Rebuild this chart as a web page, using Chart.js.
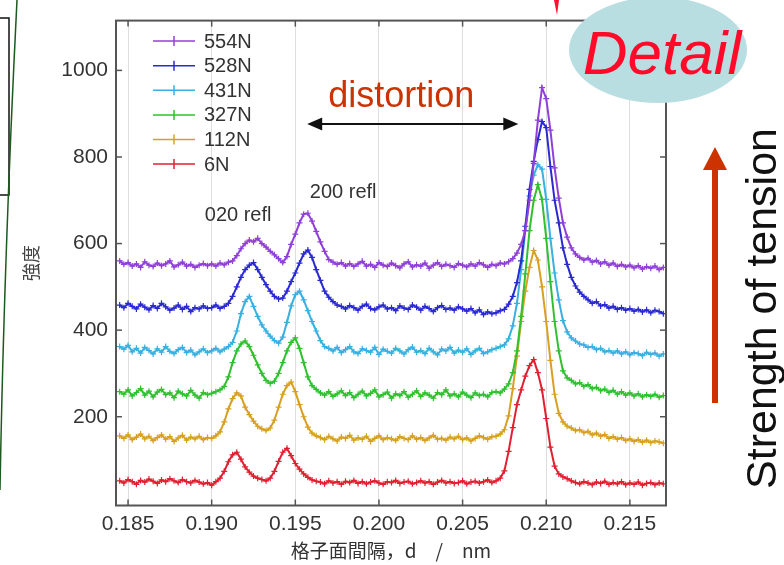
<!DOCTYPE html>
<html>
<head>
<meta charset="utf-8">
<script src="https://cdn.jsdelivr.net/npm/chart.js@4.4.0/dist/chart.umd.min.js"></script>
<style>
html,body{margin:0;padding:0;background:#fff;overflow:hidden}
#wrap{position:relative;width:784px;height:565px}
</style>
</head>
<body>
<div id="wrap"><canvas id="c" width="784" height="565"></canvas></div>
<script>
// lattice spacing d (nm)
const dSpacing = [
0.1845,0.18475,0.185,0.18525,0.1855,0.18575,0.186,0.18625,0.1865,0.18675,
0.187,0.18725,0.1875,0.18775,0.188,0.18825,0.1885,0.18875,0.189,0.18925,
0.1895,0.18975,0.19,0.19025,0.1905,0.19075,0.191,0.19125,0.1915,0.19175,
0.192,0.19225,0.1925,0.19275,0.193,0.19325,0.1935,0.19375,0.194,0.19425,
0.1945,0.19475,0.195,0.19525,0.1955,0.19575,0.196,0.19625,0.1965,0.19675,
0.197,0.19725,0.1975,0.19775,0.198,0.19825,0.1985,0.19875,0.199,0.19925,
0.1995,0.19975,0.2,0.20025,0.2005,0.20075,0.201,0.20125,0.2015,0.20175,
0.202,0.20225,0.2025,0.20275,0.203,0.20325,0.2035,0.20375,0.204,0.20425,
0.2045,0.20475,0.205,0.20525,0.2055,0.20575,0.206,0.20625,0.2065,0.20675,
0.207,0.20725,0.2075,0.20775,0.208,0.20825,0.2085,0.20875,0.209,0.20925,
0.2095,0.20975,0.21,0.21025,0.2105,0.21075,0.211,0.21125,0.2115,0.21175,
0.212,0.21225,0.2125,0.21275,0.213,0.21325,0.2135,0.21375,0.214,0.21425,
0.2145,0.21475,0.215,0.21525,0.2155,0.21575,0.216,0.21625,0.2165,0.21675,
0.217];

const seriesLabels = ['554N','528N','431N','327N','112N','6N'];

const s554 = [560,552,556,548,553,545,558,550,547,555,549,553,560,546,551,557,548,552,545,550,554,549,
553,548,555,551,557,560,572,588,600,608,604,612,600,592,582,574,565,556,570,598,622,648,668,670,652,628,
604,582,563,557,552,556,548,554,547,553,559,548,552,545,556,550,547,555,549,544,553,558,546,551,548,555,543,550,556,547,552,549,545,554,550,546,553,548,556,551,545,552,
549,555,553,558,565,578,598,630,700,785,885,960,935,862,775,705,648,615,
590,576,568,562,566,557,561,553,558,550,555,547,552,546,550,544,549,541,547,543,548,540,545];

const s528 = [458,452,462,455,449,460,453,447,457,450,462,454,446,451,458,448,455,443,452,449,456,450,
452,458,450,455,462,478,500,522,540,550,556,540,522,505,490,478,472,474,490,512,532,555,576,585,568,540,
515,490,476,466,458,455,449,457,452,446,455,460,450,447,454,458,449,452,445,456,451,448,458,453,446,455,450,443,452,457,448,451,446,454,449,444,450,440,447,436,442,438,
440,445,448,460,478,510,560,640,725,790,840,882,868,778,700,648,590,552,
522,502,488,478,470,462,466,456,459,451,455,448,452,446,450,444,448,442,447,440,446,443,438];

const s431 = [362,356,365,350,358,347,360,353,345,357,349,362,351,346,355,360,348,354,343,350,357,348,
352,358,350,356,362,372,398,438,466,478,455,432,412,398,386,376,370,384,418,456,482,490,470,445,420,398,
376,362,358,352,360,348,355,362,350,346,357,353,349,360,344,356,351,347,358,352,345,355,361,349,353,346,358,350,343,356,352,360,347,354,349,357,344,352,358,346,350,355,
358,362,366,380,410,462,540,630,710,758,782,772,702,612,532,470,422,396,
382,375,368,366,360,362,355,358,350,353,347,352,345,350,343,348,346,341,349,344,347,340,345];

const s327 = [258,252,262,248,256,265,250,259,246,257,263,251,255,244,259,253,248,261,250,243,256,251,
254,258,262,270,292,325,352,368,375,362,342,320,300,284,277,282,300,325,352,372,382,358,325,292,272,263,
255,250,258,247,253,260,249,256,244,252,259,248,254,262,246,251,257,243,253,249,258,245,252,260,247,255,250,243,256,251,262,248,253,246,257,250,244,255,249,252,246,256,
258,255,264,276,302,352,432,530,630,700,736,702,612,512,420,352,306,290,
284,276,279,270,274,265,268,260,264,256,261,252,258,250,255,248,253,246,251,247,252,245,249];

const s112 = [156,150,158,147,153,160,149,155,145,152,158,148,154,143,151,157,146,153,149,155,147,152,
150,156,165,188,218,242,255,248,222,205,190,178,172,168,174,192,222,252,272,280,258,228,200,176,162,156,
152,147,155,149,144,153,150,157,146,151,148,155,143,150,156,147,152,149,145,154,150,147,156,148,152,145,151,157,148,150,146,153,149,155,147,151,144,150,156,152,148,154,
155,160,170,202,265,340,420,490,545,584,562,500,420,330,252,208,188,178,
174,168,170,163,166,158,162,155,159,150,154,148,152,145,149,143,147,141,146,140,144,142,139];

const s6 = [52,47,55,50,44,53,49,56,51,46,54,50,57,52,48,55,50,47,53,49,45,48,
42,50,58,74,96,112,118,102,84,72,63,58,55,52,58,74,97,118,127,110,92,79,68,60,54,51,
49,45,52,47,50,44,51,48,53,46,50,45,49,52,47,44,50,48,53,46,49,51,45,48,52,47,50,44,49,53,47,50,46,48,52,45,49,51,47,50,54,48,
52,58,75,120,175,228,262,294,318,332,302,262,196,130,86,68,61,57,
52,48,45,50,47,43,49,46,51,44,48,45,50,43,47,44,49,42,46,48,43,47,45];

const xTickStep = 0.005;
const yTickStep = 200;

// styles
const seriesColors = ['#9040d8','#2a2ad0','#38b0e0','#30c030','#d8a020','#e02030'];
const allSeries = [s554,s528,s431,s327,s112,s6];

const datasets = allSeries.map((s, k) => ({
  label: seriesLabels[k],
  data: dSpacing.map((d, i) => ({x: d, y: s[i]})),
  borderColor: seriesColors[k],
  backgroundColor: seriesColors[k],
  pointBorderColor: seriesColors[k],
  borderWidth: 2,
  pointStyle: 'cross',
  pointRadius: 3,
  pointBorderWidth: 1.2,
  tension: 0,
  fill: false
}));

function arrowHead(ctx, x, y, dx, dy, len, half) {
  const n = Math.hypot(dx, dy); const ux = dx / n, uy = dy / n;
  ctx.beginPath();
  ctx.moveTo(x, y);
  ctx.lineTo(x - ux * len - uy * half, y - uy * len + ux * half);
  ctx.lineTo(x - ux * len + uy * half, y - uy * len - ux * half);
  ctx.closePath(); ctx.fill();
}

const decor = {
  id: 'decor',
  afterDraw(chart) {
    const {ctx, chartArea: a, scales: {x, y}} = chart;
    ctx.save();
    const seg = (x1, y1, x2, y2) => { ctx.beginPath(); ctx.moveTo(x1, y1); ctx.lineTo(x2, y2); ctx.stroke(); };

    // inward tick marks
    ctx.strokeStyle = '#555'; ctx.lineWidth = 1.5;
    x.ticks.forEach(t => { const px = x.getPixelForValue(t.value); seg(px, a.bottom, px, a.bottom - 6); seg(px, a.top, px, a.top + 6); });
    y.ticks.forEach(t => { if (t.value <= 0) return; const py = y.getPixelForValue(t.value); seg(a.left, py, a.left + 6, py); seg(a.right, py, a.right - 6, py); });

    // frame
    ctx.strokeStyle = '#555'; ctx.lineWidth = 2;
    ctx.strokeRect(a.left, a.top, a.right - a.left, a.bottom - a.top);

    // legend
    ctx.font = '20px "Liberation Sans", Arial, sans-serif';
    ctx.textBaseline = 'middle'; ctx.textAlign = 'left';
    chart.data.datasets.forEach((ds, i) => {
      const yy = a.top + 20.5 + i * 24.6;
      ctx.strokeStyle = ds.borderColor; ctx.lineWidth = 1.5;
      seg(a.left + 37, yy, a.left + 79, yy);
      seg(a.left + 58, yy - 5, a.left + 58, yy + 5);
      ctx.fillStyle = '#333';
      ctx.fillText(ds.label, a.left + 88, yy + 1);
    });

    // peak labels
    ctx.fillStyle = '#333'; ctx.textAlign = 'center';
    ctx.font = '20px "Liberation Sans", Arial, sans-serif';
    ctx.fillText('020 refl', x.getPixelForValue(0.19158), y.getPixelForValue(665));
    ctx.fillText('200 refl', x.getPixelForValue(0.19786), y.getPixelForValue(717));

    // distortion
    ctx.fillStyle = '#cc3300';
    ctx.font = '36px "Liberation Sans", Arial, sans-serif';
    ctx.fillText('distortion', x.getPixelForValue(0.20133), y.getPixelForValue(939));
    const ax1 = x.getPixelForValue(0.19571), ax2 = x.getPixelForValue(0.20833), ay = y.getPixelForValue(876);
    ctx.strokeStyle = '#111'; ctx.fillStyle = '#111'; ctx.lineWidth = 2;
    seg(ax1 + 10, ay, ax2 - 10, ay);
    arrowHead(ctx, ax1, ay, -1, 0, 15, 6.5);
    arrowHead(ctx, ax2, ay, 1, 0, 15, 6.5);

    // left decorations
    ctx.strokeStyle = '#111'; ctx.lineWidth = 1.5;
    ctx.beginPath(); ctx.moveTo(0, 18); ctx.lineTo(9, 18); ctx.lineTo(9, 195); ctx.lineTo(0, 195); ctx.stroke();
    ctx.strokeStyle = '#1d5a1d'; ctx.lineWidth = 1.5;
    ctx.beginPath(); ctx.moveTo(17, 0); ctx.quadraticCurveTo(4, 260, 0, 490); ctx.stroke();

    // red mark at top
    ctx.fillStyle = '#ff1030';
    ctx.beginPath(); ctx.moveTo(554, 0); ctx.lineTo(559, 0); ctx.lineTo(557, 15); ctx.closePath(); ctx.fill();

    // Detail ellipse
    ctx.fillStyle = '#b8dee2';
    ctx.beginPath(); ctx.ellipse(658, 50, 89, 53, 0, 0, Math.PI * 2); ctx.fill();
    ctx.fillStyle = '#ff0a28';
    ctx.font = 'italic 62px "Liberation Sans", Arial, sans-serif';
    ctx.textBaseline = 'alphabetic'; ctx.textAlign = 'center';
    ctx.fillText('Detail', 662, 74);

    // tension arrow
    ctx.fillStyle = '#cc3300';
    ctx.fillRect(712, 168, 6, 235);
    ctx.beginPath(); ctx.moveTo(703, 170); ctx.lineTo(727, 170); ctx.lineTo(715, 147); ctx.closePath(); ctx.fill();

    // Strength of tension
    ctx.save();
    ctx.translate(776, 308.5); ctx.rotate(-Math.PI / 2);
    ctx.fillStyle = '#111';
    ctx.font = '43px "Liberation Sans", Arial, sans-serif';
    ctx.textAlign = 'center'; ctx.textBaseline = 'alphabetic';
    ctx.fillText('Strength of tension', 0, 0);
    ctx.restore();

    ctx.restore();
  }
};

new Chart(document.getElementById('c'), {
  type: 'line',
  data: { datasets },
  plugins: [decor],
  options: {
    responsive: false,
    animation: false,
    devicePixelRatio: 1,
    layout: { padding: { top: 10, right: 118, left: 0, bottom: 0 } },
    plugins: { legend: { display: false }, tooltip: { enabled: false } },
    scales: {
      x: {
        type: 'linear', min: 0.18428, max: 0.21716,
        ticks: {
          stepSize: xTickStep, includeBounds: false, autoSkip: false, maxRotation: 0,
          font: { family: '"Liberation Sans", Arial, sans-serif', size: 21 }, color: '#333', padding: 6,
          callback: v => Number(v).toFixed(3)
        },
        grid: { color: '#dedede', lineWidth: 1, drawTicks: false },
        border: { display: false },
        title: { display: true, text: '格子面間隔，d　/　nm', color: '#333',
          font: { family: '"Noto Sans CJK JP", sans-serif', size: 19 }, padding: { top: 0, bottom: 3 } },
        afterFit(s) { s.height = 59.5; }
      },
      y: {
        min: -5, max: 1115,
        ticks: {
          stepSize: yTickStep, includeBounds: false,
          font: { family: '"Liberation Sans", Arial, sans-serif', size: 21 }, color: '#333', padding: 8,
          callback: v => v === 0 ? '' : v
        },
        grid: { display: false, drawTicks: false },
        border: { display: false },
        title: { display: true, text: '強度', color: '#444',
          font: { family: '"Noto Sans CJK JP", sans-serif', size: 18 }, padding: { top: 20, bottom: 0 } },
        afterFit(s) { s.width = 116; }
      }
    }
  }
});
</script>
</body>
</html>
